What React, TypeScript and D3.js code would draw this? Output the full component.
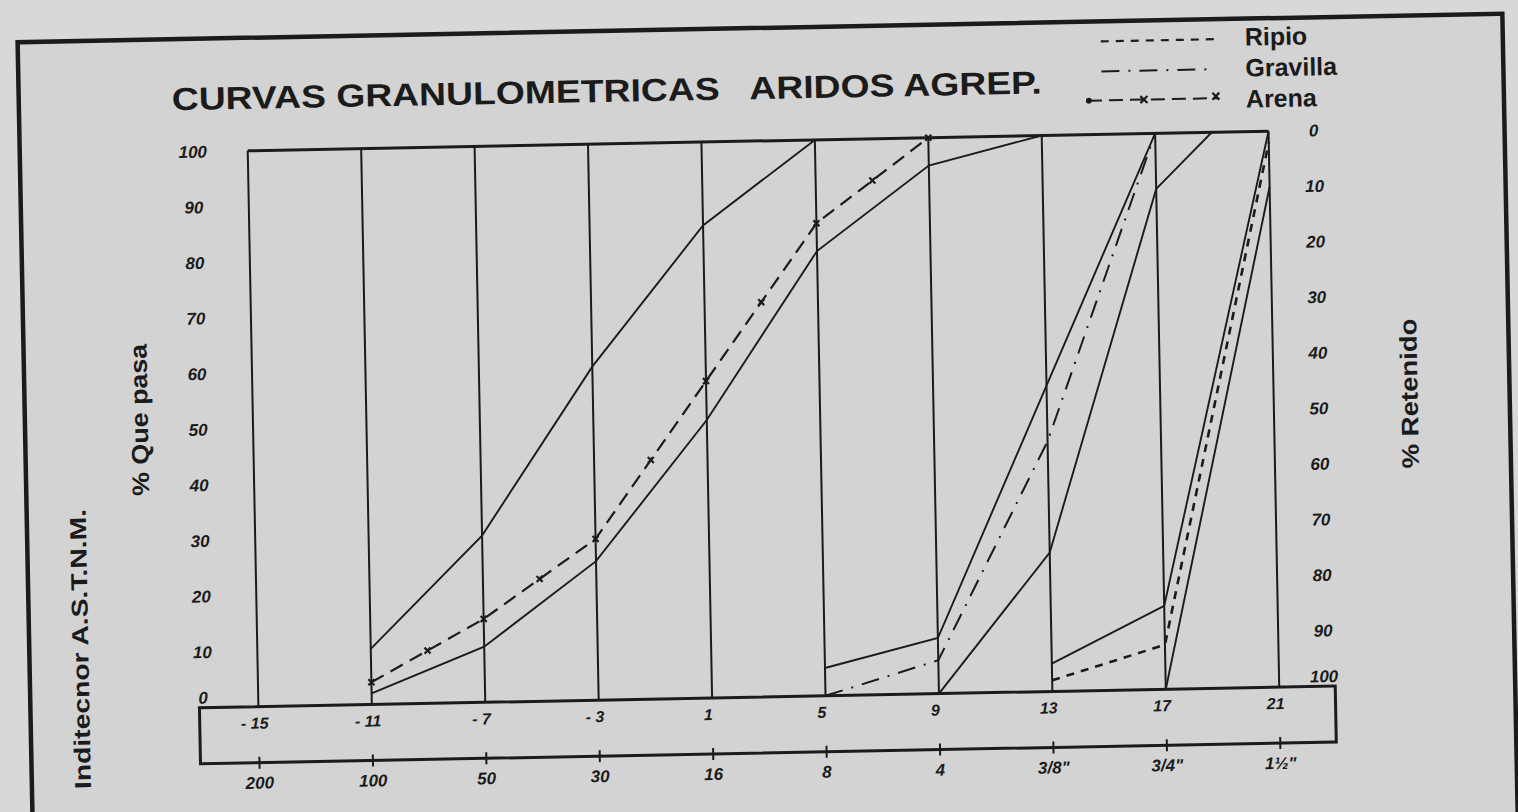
import React from 'react';
import * as d3 from 'd3';

// column labels (ASTM sieves and the scale number above them)
const sieveLabels = ['200', '100', '50', '30', '16', '8', '4', '3/8"', '3/4"', '1½"'];
const scaleLabels = ['- 15', '- 11', '- 7', '- 3', '1', '5', '9', '13', '17', '21'];
const percentTicks = [0, 10, 20, 30, 40, 50, 60, 70, 80, 90, 100];

// Arena
const arenaCols = [1, 2, 3, 4, 5, 6];
const arenaPass = [4, 15, 29, 57, 85, 100];
const arenaMaxCols = [1, 2, 3, 4, 5];
const arenaMax = [10, 30, 60, 85, 100];
const arenaMinCols = [1, 2, 3, 4, 5, 6, 7];
const arenaMin = [2, 10, 25, 50, 80, 95, 100];

// Gravilla
const gravillaCols = [5, 6, 7, 8];
const gravillaPass = [0, 6, 45, 100];
const gravillaMaxCols = [5, 6, 7, 8];
const gravillaMax = [5, 10, 55, 100];
const gravillaMinCols = [6, 7, 8, 8.5];
const gravillaMin = [0, 25, 90, 100];

// Ripio
const ripioCols = [7, 8, 9];
const ripioPass = [2, 8, 98];
const ripioMaxCols = [7, 8, 9];
const ripioMax = [5, 15, 100];
const ripioMinCols = [8, 9];
const ripioMin = [0, 90];

const INK = '#1b1b1b';
const SANS = '"Liberation Sans", Arial, sans-serif';

const pair = (cols: number[], vals: number[]) => cols.map((c, i) => [c, vals[i]] as [number, number]);

function Cross({ cx, cy, s = 3.5 }: { cx: number; cy: number; s?: number }) {
  return (
    <g stroke={INK} strokeWidth={2.2}>
      <line x1={cx - s} y1={cy - s} x2={cx + s} y2={cy + s} />
      <line x1={cx - s} y1={cy + s} x2={cx + s} y2={cy - s} />
    </g>
  );
}

export default function App() {
  const x = d3.scaleLinear().domain([0, 9]).range([253, 1274]);
  const y = d3.scaleLinear().domain([0, 100]).range([697, 141]);
  const yRet = d3.scaleLinear().domain([0, 100]).range([141, 697]);
  const line = d3
    .line<[number, number]>()
    .x((d) => x(d[0]))
    .y((d) => y(d[1]));

  const limits = [
    pair(arenaMaxCols, arenaMax),
    pair(arenaMinCols, arenaMin),
    pair(gravillaMaxCols, gravillaMax),
    pair(gravillaMinCols, gravillaMin),
    pair(ripioMaxCols, ripioMax),
    pair(ripioMinCols, ripioMin),
  ];

  const arena = pair(arenaCols, arenaPass);
  // crosses on the points and half way between them
  const arenaMarks: [number, number][] = [];
  arena.forEach((d, i) => {
    arenaMarks.push([x(d[0]), y(d[1])]);
    if (i < arena.length - 1) {
      const n = arena[i + 1];
      arenaMarks.push([(x(d[0]) + x(n[0])) / 2, (y(d[1]) + y(n[1])) / 2]);
    }
  });

  const cols = d3.range(sieveLabels.length);
  const boxTop = y(0);
  const boxBottom = boxTop + 56;
  const boxLeft = 194;
  const boxRight = 1330;

  return (
    <svg
      width={1518}
      height={812}
      style={{ position: 'absolute', left: 0, top: 0, display: 'block' }}
    >
      <rect width={1518} height={812} fill="#d8d8d8" />
      <g transform="rotate(-1.1, 760, 420)">
        {/* outer frame */}
        <rect x={25} y={28} width={1485} height={900} fill="#d3d3d3" stroke={INK} strokeWidth={4.5} />

        {/* title */}
        <text
          x={178}
          y={99}
          fontFamily={SANS}
          fontWeight="bold"
          fontSize={32}
          textLength={870}
          lengthAdjust="spacingAndGlyphs"
          fill={INK}
          style={{ whiteSpace: 'pre' }}
        >
          {'CURVAS GRANULOMETRICAS   ARIDOS AGREP.'}
        </text>

        {/* legend */}
        <g fontFamily={SANS} fontWeight="bold" fontSize={25} fill={INK}>
          <line x1={1108} x2={1222} y1={48} y2={48} stroke={INK} strokeWidth={2.2} strokeDasharray="8 7" />
          <text x={1252} y={55}>Ripio</text>
          <line x1={1108} x2={1222} y1={78} y2={78} stroke={INK} strokeWidth={2} strokeDasharray="18 9 2 9" />
          <text x={1252} y={86}>Gravilla</text>
          <line x1={1094} x2={1224} y1={107} y2={107} stroke={INK} strokeWidth={2} strokeDasharray="14 7" />
          <circle cx={1095} cy={107} r={3} fill={INK} />
          <Cross cx={1150} cy={107} />
          <Cross cx={1222} cy={105} />
          <text x={1252} y={117}>Arena</text>
        </g>

        {/* column lines */}
        {cols.map((i) => (
          <line key={'c' + i} x1={x(i)} x2={x(i)} y1={y(100)} y2={y(0)} stroke={INK} strokeWidth={2} />
        ))}
        <line x1={x(0)} x2={x(9)} y1={y(100)} y2={y(100)} stroke={INK} strokeWidth={3} />

        {/* lower box with the scale numbers and sieves */}
        <rect
          x={boxLeft}
          y={boxTop}
          width={boxRight - boxLeft}
          height={boxBottom - boxTop}
          fill="none"
          stroke={INK}
          strokeWidth={3}
        />
        {cols.map((i) => (
          <g key={'b' + i} fontFamily={SANS} fontStyle="italic" fontWeight="bold" fill={INK} textAnchor="middle">
            <line x1={x(i)} x2={x(i)} y1={boxBottom - 6} y2={boxBottom + 6} stroke={INK} strokeWidth={2} />
            <text x={x(i) - 4} y={boxTop + 22} fontSize={16}>
              {scaleLabels[i]}
            </text>
            <text x={x(i)} y={boxBottom + 26} fontSize={17}>
              {sieveLabels[i]}
            </text>
          </g>
        ))}

        {/* limit curves */}
        {limits.map((d, i) => (
          <path key={'l' + i} d={line(d) || ''} fill="none" stroke={INK} strokeWidth={1.9} />
        ))}

        {/* measured curves */}
        <path
          d={line(pair(ripioCols, ripioPass)) || ''}
          fill="none"
          stroke={INK}
          strokeWidth={2.6}
          strokeDasharray="8 7"
        />
        <path
          d={line(pair(gravillaCols, gravillaPass)) || ''}
          fill="none"
          stroke={INK}
          strokeWidth={2}
          strokeDasharray="18 9 2 9"
        />
        <path d={line(arena) || ''} fill="none" stroke={INK} strokeWidth={2.2} strokeDasharray="14 8" />
        {arenaMarks.map((m, i) => (
          <Cross key={'m' + i} cx={m[0]} cy={m[1]} s={3} />
        ))}

        {/* left axis: % que pasa */}
        <g fontFamily={SANS} fontStyle="italic" fontWeight="bold" fontSize={17} fill={INK} textAnchor="middle">
          {percentTicks.map((v) => (
            <text key={'p' + v} x={198} y={(v === 0 ? y(v) - 10 : y(v)) + 6}>
              {v}
            </text>
          ))}
        </g>
        {/* right axis: % retenido */}
        <g fontFamily={SANS} fontStyle="italic" fontWeight="bold" fontSize={17} fill={INK} textAnchor="middle">
          {percentTicks.map((v) => (
            <text key={'r' + v} x={1319} y={(v === 100 ? yRet(v) - 10 : yRet(v)) + 6}>
              {v}
            </text>
          ))}
        </g>

        {/* axis titles */}
        <g fontFamily={SANS} fontWeight="bold" fill={INK} textAnchor="middle">
          <text transform="translate(148, 408) rotate(-90)" fontSize={24} textLength={152} lengthAdjust="spacingAndGlyphs">
            % Que pasa
          </text>
          <text transform="translate(1418, 406) rotate(-90)" fontSize={24} textLength={150} lengthAdjust="spacingAndGlyphs">
            % Retenido
          </text>
          <text transform="translate(84, 636) rotate(-90)" fontSize={23} textLength={280} lengthAdjust="spacingAndGlyphs">
            Inditecnor A.S.T.N.M.
          </text>
        </g>
      </g>
    </svg>
  );
}
